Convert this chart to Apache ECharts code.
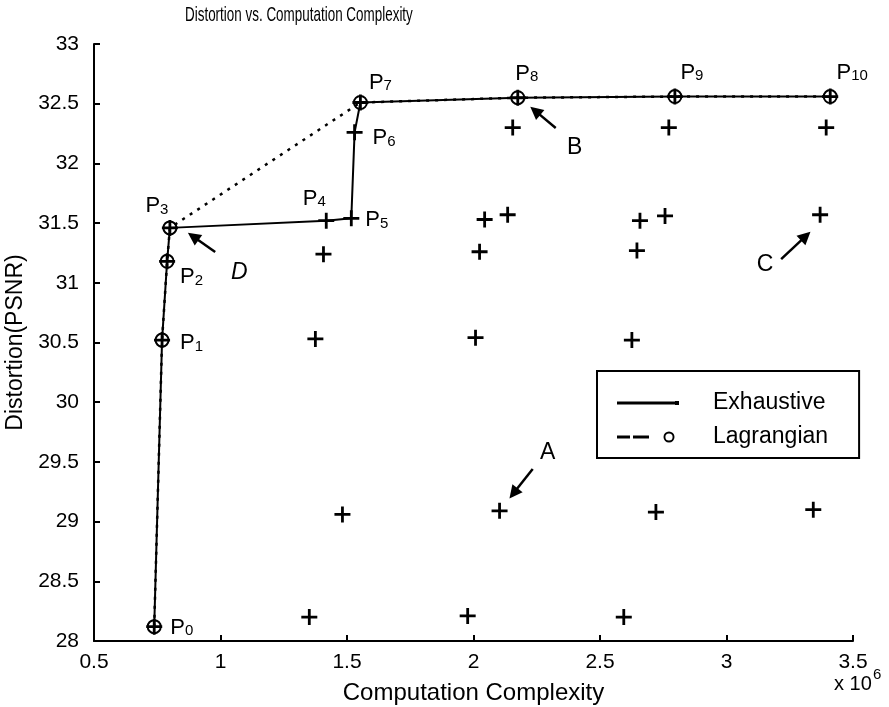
<!DOCTYPE html>
<html>
<head>
<meta charset="utf-8">
<title>Distortion vs. Computation Complexity</title>
<script src="https://cdn.jsdelivr.net/npm/echarts@6/dist/echarts.min.js"></script>
<style>
  html, body { margin: 0; padding: 0; background: #fff; }
  #chart { width: 889px; height: 707px; }
</style>
</head>
<body>
<div id="chart"></div>
<script>
// Operating points P0..P10 reached by the exhaustive search (complexity in units of 1e6, PSNR in dB)
const pathX = [0.738, 0.769, 0.789, 0.800, 1.418, 1.517, 1.530, 1.553, 2.175, 2.796, 3.410];
const pathY = [28.12, 30.52, 31.18, 31.46, 31.52, 31.54, 32.26, 32.51, 32.55, 32.56, 32.56];

// Points chosen by the Lagrangian search (P0-P3, P7-P10)
const lagX = [0.738, 0.769, 0.789, 0.800, 1.553, 2.175, 2.796, 3.410];
const lagY = [28.12, 30.52, 31.18, 31.46, 32.51, 32.55, 32.56, 32.56];

// All other candidate settings
const candX = [1.351, 1.482, 1.375, 1.407,
               1.977, 2.103, 2.008, 2.024, 2.044, 2.135, 2.155,
               2.594, 2.721, 2.626, 2.646, 2.658, 2.757, 2.772,
               3.343, 3.370, 3.394];
const candY = [28.20, 29.06, 30.53, 31.24,
               28.21, 29.09, 30.54, 31.26, 31.53, 31.57, 32.30,
               28.20, 29.08, 30.52, 31.27, 31.52, 31.56, 32.30,
               29.10, 31.57, 32.30];

// Callout letters and the arrows pointing from them
const noteText = ['A', 'B', 'C', 'D'];
const noteX = [2.293, 2.400, 3.152, 1.074];
const noteY = [29.575, 32.129, 31.149, 31.082];
const arrowFromX = [2.234, 2.325, 3.216, 0.979];
const arrowFromY = [29.440, 32.296, 31.199, 31.258];
const arrowToX = [2.158, 2.244, 3.313, 0.892];
const arrowToY = [29.237, 32.440, 31.391, 31.388];

// Axis ranges: [min, max, step]
const xRange = [0.5, 3.5, 0.5];
const yRange = [28, 33, 0.5];

const seriesNames = ['Exhaustive', 'Lagrangian'];
const titleText = 'Distortion vs. Computation Complexity';

const FONT = "'Liberation Sans', Arial, Helvetica, sans-serif";
const PLUS = 'path://M6.6,0H9.4V6.6H16V9.4H9.4V16H6.6V9.4H0V6.6H6.6Z';

// Legend keys drawn in a 62x14 box (tiny corner squares keep the box size)
const CORNERS = 'M0,0h0.05v0.05h-0.05Z M62,14h-0.05v-0.05h0.05Z ';
const ICON_SOLID = 'path://' + CORNERS + 'M0,5.6H60V8.4H0Z M58,5H62V9H58Z';
const ICON_DASH = 'path://' + CORNERS +
  'M0,5.5H13V8.5H0Z M16,5.5H32V8.5H16Z ' +
  'M57.5,7A5.5,5.5 0 1,0 46.5,7A5.5,5.5 0 1,0 57.5,7Z ' +
  'M55.6,7A3.6,3.6 0 1,1 48.4,7A3.6,3.6 0 1,1 55.6,7Z';

// Where each P label sits relative to its point
const labelPlace = [
  { position: 'right', distance: 8,  offset: [0, 1] },
  { position: 'right', distance: 10, offset: [0, 3] },
  { position: 'right', distance: 5,  offset: [0, 16] },
  { position: 'top',   distance: 5,  offset: [-13, 2] },
  { position: 'top',   distance: 5,  offset: [-12, 2] },
  { position: 'right', distance: 6,  offset: [0, 2] },
  { position: 'right', distance: 10, offset: [0, 6] },
  { position: 'top',   distance: 5,  offset: [20, 4] },
  { position: 'top',   distance: 5,  offset: [9, 0] },
  { position: 'top',   distance: 5,  offset: [17, 0] },
  { position: 'top',   distance: 5,  offset: [22, 0] }
];

const pRich = {
  p: { fontSize: 22, color: '#000', fontFamily: FONT, verticalAlign: 'bottom' },
  s: { fontSize: 15, color: '#000', fontFamily: FONT, verticalAlign: 'bottom', lineHeight: 14 }
};

const pathData = pathX.map((x, i) => ({
  value: [x, pathY[i]],
  label: Object.assign({
    show: true,
    formatter: '{p|P}{s|' + i + '}',
    rich: pRich
  }, labelPlace[i])
}));

const lagData = lagX.map((x, i) => [x, lagY[i]]);
const candData = candX.map((x, i) => [x, candY[i]]);

const noteData = noteText.map((t, i) => ({
  value: [noteX[i], noteY[i]],
  name: t,
  label: { fontStyle: t === 'D' ? 'italic' : 'normal' }
}));

const arrowData = arrowFromX.map((x, i) => [
  { coord: [x, arrowFromY[i]] },
  { coord: [arrowToX[i], arrowToY[i]] }
]);

const chart = echarts.init(document.getElementById('chart'), null, { renderer: 'canvas' });

chart.setOption({
  animation: false,
  backgroundColor: '#fff',
  textStyle: { fontFamily: FONT, color: '#000' },
  grid: {
    left: 94, right: 36, top: 44, bottom: 66,
    containLabel: false,
    outerBoundsMode: 'none'
  },
  legend: {
    orient: 'vertical',
    left: 597,
    top: 371,
    padding: [20, 31, 9, 20],
    itemGap: 10,
    itemWidth: 62,
    itemHeight: 14,
    symbolKeepAspect: false,
    borderColor: '#000',
    borderWidth: 2,
    backgroundColor: '#fff',
    selectedMode: false,
    itemStyle: { color: '#000', borderWidth: 0 },
    textStyle: { fontSize: 23, color: '#000', fontFamily: FONT, padding: [0, 0, 0, 29], lineHeight: 24 },
    data: [
      { name: seriesNames[0], icon: ICON_SOLID, itemStyle: { color: '#000', borderWidth: 0 } },
      { name: seriesNames[1], icon: ICON_DASH, itemStyle: { color: '#000', borderWidth: 0 } }
    ]
  },
  xAxis: {
    type: 'value',
    min: xRange[0], max: xRange[1], interval: xRange[2],
    name: 'Computation Complexity',
    nameLocation: 'middle',
    nameGap: 40,
    nameTextStyle: { fontSize: 24, color: '#000', fontFamily: FONT },
    axisLine: { show: true, onZero: false, lineStyle: { color: '#000', width: 2 } },
    axisTick: { show: true, inside: true, length: 6, lineStyle: { color: '#000', width: 2 } },
    axisLabel: { fontSize: 21, color: '#000', margin: 11, fontFamily: FONT },
    splitLine: { show: false }
  },
  yAxis: {
    type: 'value',
    min: yRange[0], max: yRange[1], interval: yRange[2],
    name: 'Distortion(PSNR)',
    nameLocation: 'middle',
    nameGap: 65,
    nameTextStyle: { fontSize: 23, color: '#000', fontFamily: FONT },
    axisLine: { show: true, onZero: false, lineStyle: { color: '#000', width: 2 } },
    axisTick: { show: true, inside: true, length: 6, lineStyle: { color: '#000', width: 2 } },
    axisLabel: { fontSize: 21, color: '#000', margin: 15, fontFamily: FONT },
    splitLine: { show: false }
  },
  graphic: [
    // condensed chart title
    {
      type: 'text', left: 185, top: 5, scaleX: 0.64,
      style: { text: titleText, fill: '#000', font: '21px ' + FONT }
    },
    { type: 'text', left: 834, top: 674, style: { text: 'x 10', fill: '#000', font: '20px ' + FONT } },
    { type: 'text', left: 873, top: 667, style: { text: '6', fill: '#000', font: '15px ' + FONT } }
  ],
  series: [
    {
      name: 'candidates',
      type: 'scatter',
      data: candData,
      symbol: PLUS,
      symbolSize: 16,
      itemStyle: { color: '#000', opacity: 1 },
      z: 2,
      silent: true
    },
    {
      name: seriesNames[1],
      type: 'line',
      data: lagData,
      symbol: 'circle',
      symbolSize: 13,
      showAllSymbol: true,
      itemStyle: { color: 'rgba(0,0,0,0)', borderColor: '#000', borderWidth: 2 },
      lineStyle: { color: '#000', width: 2.5, type: [3, 6] },
      z: 2,
      silent: true
    },
    {
      name: seriesNames[0],
      type: 'line',
      data: pathData,
      symbol: PLUS,
      symbolSize: 16,
      showAllSymbol: true,
      itemStyle: { color: '#000' },
      lineStyle: { color: '#000', width: 2 },
      z: 3,
      silent: true
    },
    {
      name: 'notes',
      type: 'scatter',
      data: noteData,
      symbolSize: 1,
      itemStyle: { color: 'rgba(0,0,0,0)', opacity: 1 },
      label: {
        show: true,
        position: 'inside',
        formatter: '{b}',
        fontSize: 23,
        color: '#000',
        opacity: 1,
        fontFamily: FONT
      },
      silent: true,
      z: 4,
      markLine: {
        silent: true,
        symbol: ['none', 'triangle'],
        symbolSize: 13,
        label: { show: false },
        lineStyle: { color: '#000', width: 2.5, type: 'solid', opacity: 1 },
        emphasis: { disabled: true },
        data: arrowData
      }
    }
  ]
});
</script>
</body>
</html>
